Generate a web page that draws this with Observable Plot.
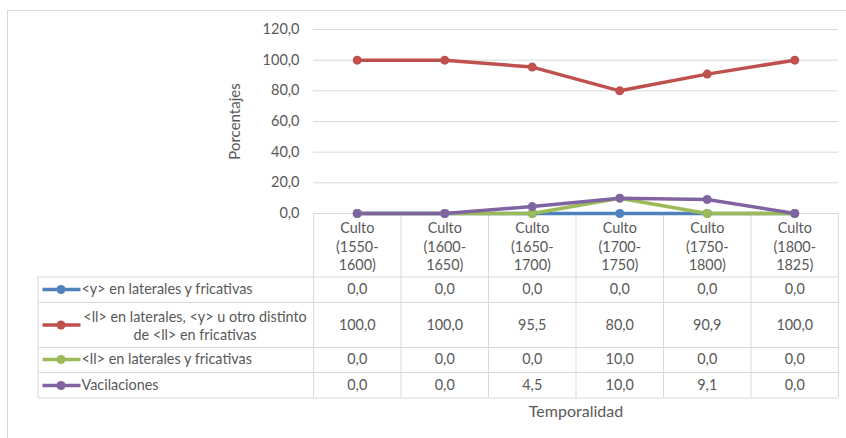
<!DOCTYPE html>
<html>
<head>
<meta charset="utf-8">
<script src="https://cdn.jsdelivr.net/npm/d3@7"></script>
<script src="https://cdn.jsdelivr.net/npm/@observablehq/plot@0.6"></script>
<style>
  html, body { margin: 0; padding: 0; background: #fff; }
  #wrap { position: relative; width: 846px; height: 438px; overflow: hidden; }
  #border { position: absolute; left: 7px; top: 10px; width: 860px; height: 460px;
            border-left: 1px solid #d9d9d9; border-top: 1px solid #d9d9d9; pointer-events: none; }
</style>
</head>
<body>
<div id="wrap"><div id="border"></div></div>
<script>
// ---- data ----
const categories = ["Culto\n(1550-\n1600)", "Culto\n(1600-\n1650)", "Culto\n(1650-\n1700)",
                    "Culto\n(1700-\n1750)", "Culto\n(1750-\n1800)", "Culto\n(1800-\n1825)"];
const seriesNames = ["<y> en laterales y fricativas",
                     "<ll> en laterales, <y> u otro distinto\nde <ll> en fricativas",
                     "<ll> en laterales y fricativas",
                     "Vacilaciones"];
const serieY   = [0, 0, 0, 0, 0, 0];
const serieLL  = [100, 100, 95.5, 80, 90.9, 100];
const serieLLF = [0, 0, 0, 10, 0, 0];
const serieVac = [0, 0, 4.5, 10, 9.1, 0];
const yTicks = [0, 20, 40, 60, 80, 100, 120];
const colors = ["#4F81BD", "#C0504D", "#9BBB59", "#8064A2"];
const yLabel = "Porcentajes";
const xLabel = "Temporalidad";

// ---- layout helpers (pixel -> scale units) ----
const W = 846, H = 438, mL = 313, mR = 8, mT = 29, mB = 225;
const step = (W - mL - mR) / categories.length;
const px2x = p => (p - mL) / step;
const K = (H - mT - mB) / 120;
const off2y = o => -o / K;       // offset in px below the 0 line -> y units

const allSeries = [serieY, serieLL, serieLLF, serieVac];
const rows = [];
allSeries.forEach((vals, s) => vals.forEach((v, i) => rows.push({s, i, v, name: seriesNames[s]})));

const rowCenters = [76, 111.5, 146, 172];
const hLines = [63.5, 89, 134, 159, 184.5];
const fmt = v => v.toFixed(1).replace(".", ",");
const grid = "#d9d9d9";

const marks = [
  Plot.ruleY(yTicks, {stroke: grid, strokeWidth: 1}),
  Plot.axisY({ticks: yTicks, tickSize: 0, tickPadding: 14, tickFormat: fmt, label: null, fontSize: 14.5}),
  Plot.text([yLabel], {x: px2x(235), y: 60, rotate: -90, fontSize: 15}),
  // table grid
  Plot.ruleX(d3.range(categories.length + 1), {y1: 0, y2: off2y(184.5), stroke: grid}),
  Plot.ruleX([px2x(37.5)], {y1: off2y(63.5), y2: off2y(184.5), stroke: grid}),
  Plot.ruleY(hLines.map(off2y), {x1: px2x(37.5), x2: categories.length, stroke: grid}),
  // header categories
  Plot.text(categories, {x: (d, i) => i + 0.5, y: off2y(32), text: d => d, lineHeight: 1.3, lineAnchor: "middle"}),
  // values
  Plot.text(rows, {x: d => d.i + 0.5, y: d => off2y(rowCenters[d.s]), text: d => fmt(d.v), lineAnchor: "middle"}),
  // legend keys
  Plot.link(seriesNames, {x1: px2x(42), x2: px2x(80), y1: (d, s) => off2y(rowCenters[s]), y2: (d, s) => off2y(rowCenters[s]),
                          stroke: (d, s) => colors[s], strokeWidth: 3.5}),
  Plot.dot(seriesNames, {x: px2x(60.5), y: (d, s) => off2y(rowCenters[s]), r: 4.5, fill: (d, s) => colors[s], stroke: "none"}),
  Plot.text(seriesNames.filter(d => !d.includes("\n")), {
      x: px2x(81), y: d => off2y(rowCenters[seriesNames.indexOf(d)]), text: d => d, textAnchor: "start", lineAnchor: "middle"}),
  Plot.text(seriesNames.filter(d => d.includes("\n")), {
      x: px2x(194.5), y: d => off2y(rowCenters[seriesNames.indexOf(d)]), text: d => d, textAnchor: "middle", lineAnchor: "middle", lineHeight: 1.27}),
  Plot.text([xLabel], {x: categories.length / 2, y: off2y(198), fontSize: 16, lineAnchor: "middle"}),
  // series
  Plot.line(rows, {x: d => d.i + 0.5, y: "v", z: "s", stroke: d => colors[d.s], strokeWidth: 3.5, curve: "linear"}),
  Plot.dot(rows, {x: d => d.i + 0.5, y: "v", r: 4.5, fill: d => colors[d.s], stroke: "none"})
];

const chart = Plot.plot({
  width: W, height: H,
  marginLeft: mL, marginRight: mR, marginTop: mT, marginBottom: mB,
  x: {type: "linear", domain: [0, categories.length], axis: null},
  y: {type: "linear", domain: [0, 120], axis: null},
  color: {type: "identity"},
  style: {fontFamily: "Lato, 'Open Sans', sans-serif", fontSize: "14.4px", color: "#595959", background: "transparent", overflow: "visible"},
  marks
});
document.getElementById("wrap").prepend(chart);
</script>
</body>
</html>
